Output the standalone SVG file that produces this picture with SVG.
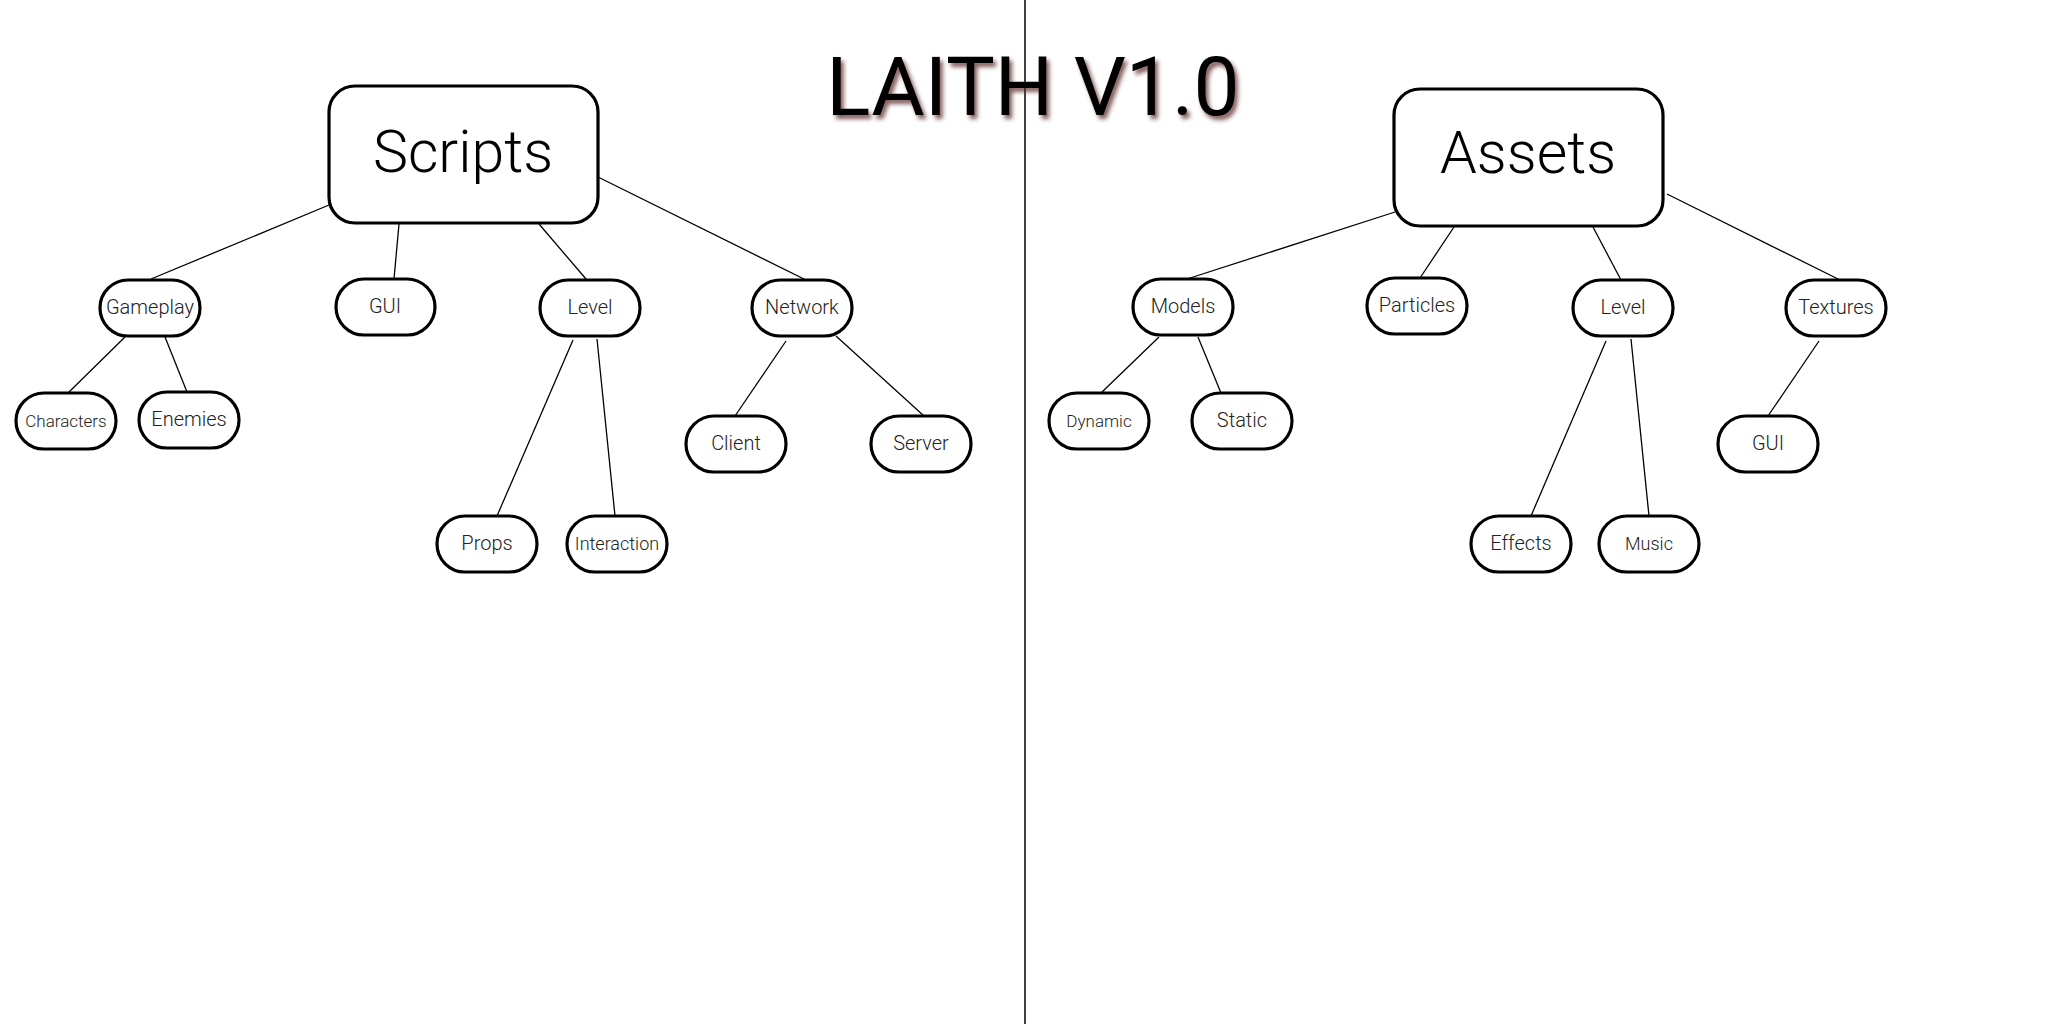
<svg xmlns="http://www.w3.org/2000/svg" width="2048" height="1024" viewBox="0 0 2048 1024">
<style>
.bg{fill:#ffffff}
.big{fill:#ffffff;stroke:#000;stroke-width:3.2}
.pill{fill:#ffffff;stroke:#000;stroke-width:3.2}
.edge{stroke:#000;stroke-width:1.3;fill:none}
.t{font-family:Roboto,"Liberation Sans",sans-serif;font-weight:300;fill:#222;text-anchor:middle}
.bt{font-family:Roboto,"Liberation Sans",sans-serif;font-weight:300;fill:#000;text-anchor:middle;font-size:59px}
.title{font-family:Roboto,"Liberation Sans",sans-serif;font-weight:400;fill:#000;text-anchor:middle;font-size:82px}
</style>
<defs>
<filter id="shadow" x="-10%" y="-30%" width="120%" height="160%">
<feDropShadow dx="3" dy="4" stdDeviation="2" flood-color="#5a2626" flood-opacity="0.75"/>
</filter>
</defs>
<rect class="bg" x="0" y="0" width="2048" height="1024"/>
<line x1="1025" y1="0" x2="1025" y2="1024" stroke="#000" stroke-width="1.5"/>
<text id="title" class="title" x="1033" y="115" filter="url(#shadow)">LAITH V1.0</text>
<g id="connectors">
<line class="edge" x1="329" y1="205" x2="151" y2="279"/>
<line class="edge" x1="399" y1="224" x2="394" y2="279"/>
<line class="edge" x1="539" y1="224" x2="586" y2="279"/>
<line class="edge" x1="598" y1="177" x2="806" y2="280"/>
<line class="edge" x1="125" y1="337" x2="68" y2="393"/>
<line class="edge" x1="165" y1="337" x2="187" y2="392"/>
<line class="edge" x1="573" y1="340" x2="497" y2="516"/>
<line class="edge" x1="597" y1="339" x2="615" y2="516"/>
<line class="edge" x1="786" y1="341" x2="735" y2="416"/>
<line class="edge" x1="836" y1="336" x2="924" y2="416"/>
<line class="edge" x1="1395" y1="212" x2="1187" y2="279"/>
<line class="edge" x1="1454" y1="227" x2="1420" y2="278"/>
<line class="edge" x1="1593" y1="227" x2="1621" y2="280"/>
<line class="edge" x1="1667" y1="194" x2="1840" y2="280"/>
<line class="edge" x1="1159" y1="337" x2="1101" y2="393"/>
<line class="edge" x1="1198" y1="337" x2="1221" y2="393"/>
<line class="edge" x1="1606" y1="341" x2="1531" y2="516"/>
<line class="edge" x1="1631" y1="339" x2="1649" y2="516"/>
<line class="edge" x1="1819" y1="341" x2="1768" y2="416"/>
</g>
<g id="scripts"><rect class="big" x="329" y="86" width="269" height="137" rx="26"/><text class="bt" x="463" y="172">Scripts</text></g>
<g id="assets"><rect class="big" x="1394" y="89" width="269" height="137" rx="26"/><text class="bt" x="1528" y="173">Assets</text></g>
<g id="gameplay"><rect class="pill" x="100" y="280" width="100" height="56" rx="28"/><text class="t" x="150" y="314" font-size="20">Gameplay</text></g>
<g id="gui-scripts"><rect class="pill" x="336" y="279" width="99" height="56" rx="28"/><text class="t" x="385" y="313" font-size="20">GUI</text></g>
<g id="level-scripts"><rect class="pill" x="540" y="280" width="100" height="56" rx="28"/><text class="t" x="590" y="314" font-size="20">Level</text></g>
<g id="network"><rect class="pill" x="752" y="280" width="100" height="56" rx="28"/><text class="t" x="802" y="314" font-size="20">Network</text></g>
<g id="characters"><rect class="pill" x="16" y="393" width="100" height="56" rx="28"/><text class="t" x="66" y="427" font-size="17">Characters</text></g>
<g id="enemies"><rect class="pill" x="139" y="392" width="100" height="56" rx="28"/><text class="t" x="189" y="426" font-size="20">Enemies</text></g>
<g id="props"><rect class="pill" x="437" y="516" width="100" height="56" rx="28"/><text class="t" x="487" y="550" font-size="20">Props</text></g>
<g id="interaction"><rect class="pill" x="567" y="516" width="100" height="56" rx="28"/><text class="t" x="617" y="550" font-size="18">Interaction</text></g>
<g id="client"><rect class="pill" x="686" y="416" width="100" height="56" rx="28"/><text class="t" x="736" y="450" font-size="20">Client</text></g>
<g id="server"><rect class="pill" x="871" y="416" width="100" height="56" rx="28"/><text class="t" x="921" y="450" font-size="20">Server</text></g>
<g id="models"><rect class="pill" x="1133" y="279" width="100" height="56" rx="28"/><text class="t" x="1183" y="313" font-size="20">Models</text></g>
<g id="particles"><rect class="pill" x="1367" y="278" width="100" height="56" rx="28"/><text class="t" x="1417" y="312" font-size="20">Particles</text></g>
<g id="level-assets"><rect class="pill" x="1573" y="280" width="100" height="56" rx="28"/><text class="t" x="1623" y="314" font-size="20">Level</text></g>
<g id="textures"><rect class="pill" x="1786" y="280" width="100" height="56" rx="28"/><text class="t" x="1836" y="314" font-size="20">Textures</text></g>
<g id="dynamic"><rect class="pill" x="1049" y="393" width="100" height="56" rx="28"/><text class="t" x="1099" y="427" font-size="17">Dynamic</text></g>
<g id="static"><rect class="pill" x="1192" y="393" width="100" height="56" rx="28"/><text class="t" x="1242" y="427" font-size="20">Static</text></g>
<g id="effects"><rect class="pill" x="1471" y="516" width="100" height="56" rx="28"/><text class="t" x="1521" y="550" font-size="20">Effects</text></g>
<g id="music"><rect class="pill" x="1599" y="516" width="100" height="56" rx="28"/><text class="t" x="1649" y="550" font-size="18">Music</text></g>
<g id="gui-assets"><rect class="pill" x="1718" y="416" width="100" height="56" rx="28"/><text class="t" x="1768" y="450" font-size="20">GUI</text></g>
</svg>
